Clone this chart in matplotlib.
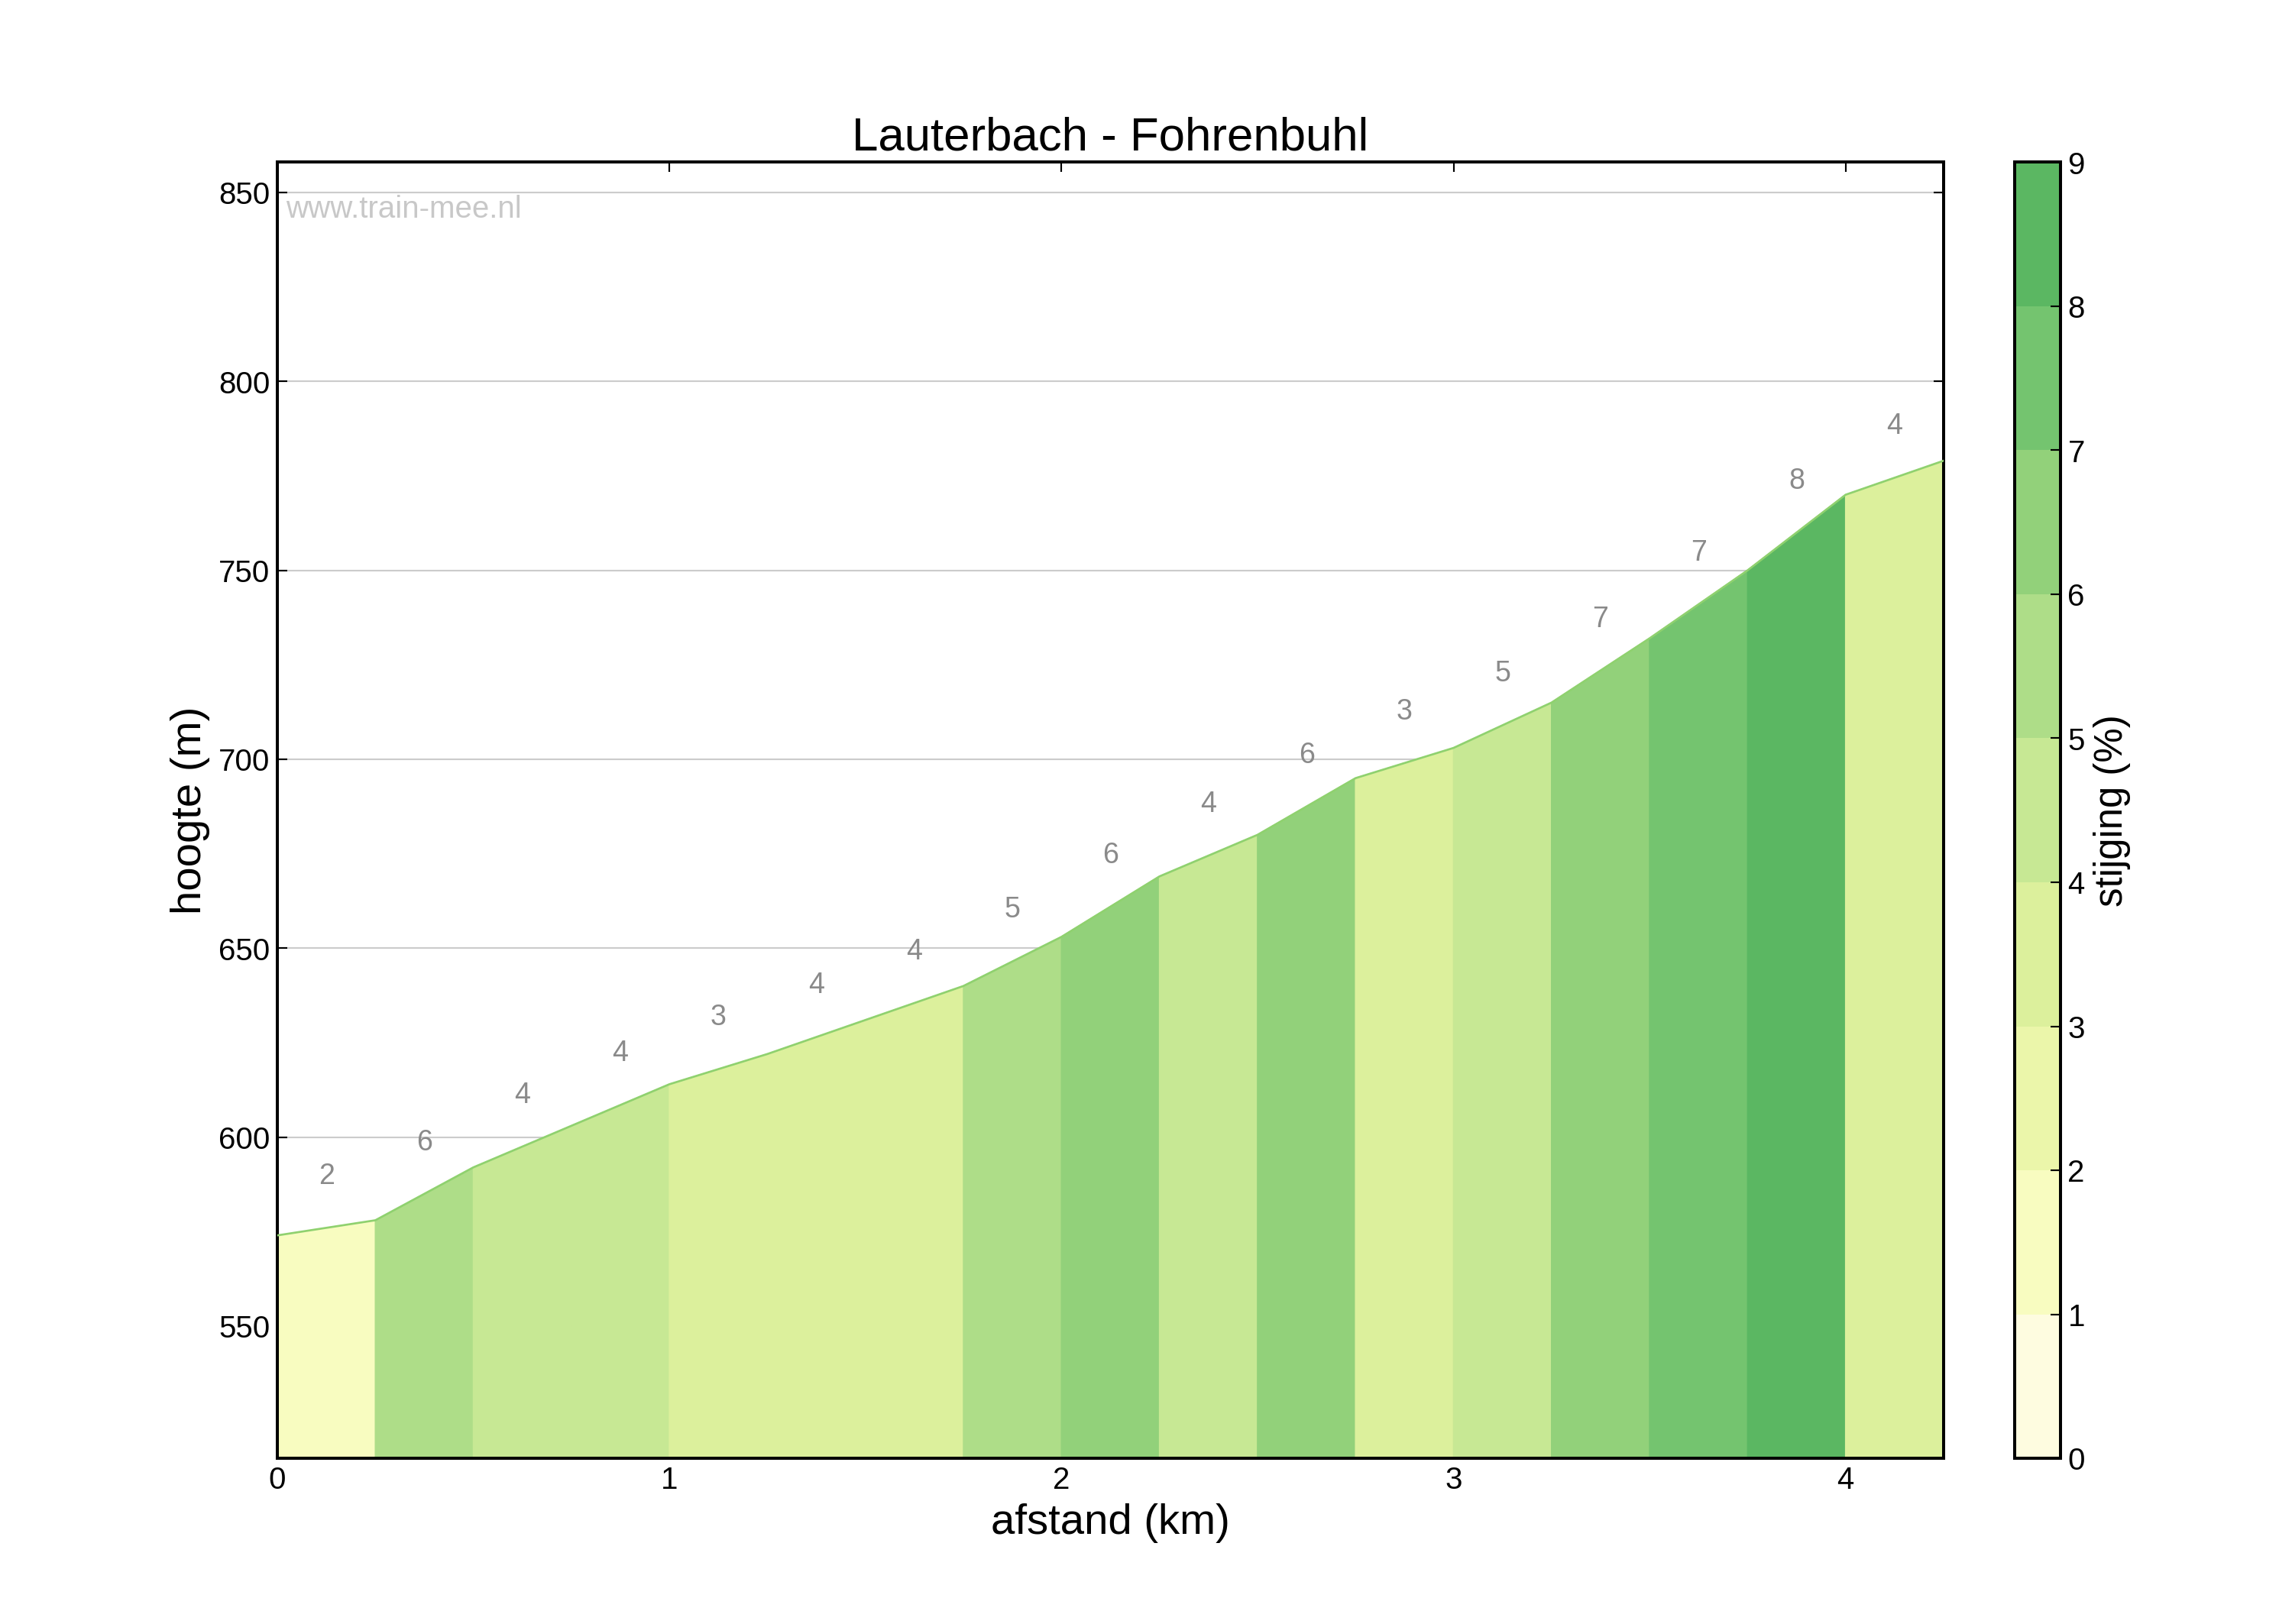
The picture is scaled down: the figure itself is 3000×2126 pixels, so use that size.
import matplotlib
matplotlib.use("Agg")
import matplotlib.pyplot as plt
import numpy as np
from matplotlib.colors import ListedColormap, BoundaryNorm
from matplotlib.colorbar import ColorbarBase

dist_km = [0, 0.25, 0.5, 0.75, 1.0, 1.25, 1.5, 1.75, 2.0, 2.25, 2.5, 2.75, 3.0, 3.25, 3.5, 3.75, 4.0, 4.25]
elev_m = [574, 578, 592, 603, 614, 622, 631, 640, 653, 669, 680, 695, 703, 715, 732, 750, 770, 779]
level_colors = ["#fefce0", "#f8fcc0", "#ebf6aa", "#dcf09c", "#c7e894", "#aedd88", "#92d17a", "#74c46f", "#5bb762"]
cbar_ticks = [0, 1, 2, 3, 4, 5, 6, 7, 8, 9]
y_ticks = [550, 600, 650, 700, 750, 800, 850]
x_ticks = [0, 1, 2, 3, 4]

plt.rcParams["font.family"] = "Liberation Sans"
fig = plt.figure(figsize=(15.52, 11), dpi=193.3)
ax = fig.add_axes([0.121, 0.102, 0.727, 0.798])
cmap = ListedColormap(level_colors)
norm = BoundaryNorm(cbar_ticks, cmap.N)

for i in range(len(dist_km) - 1):
    x0, x1 = dist_km[i], dist_km[i + 1]
    y0, y1 = elev_m[i], elev_m[i + 1]
    grade = (y1 - y0) / ((x1 - x0) * 1000) * 100
    c = cmap(norm(grade))
    ax.fill_between([x0, x1], [y0, y1], 0, facecolor=c, edgecolor=c, lw=0.6, zorder=2)
    ax.text((x0 + x1) / 2, (y0 + y1) / 2 + 10, f"{int(round(grade))}", ha="center", va="bottom",
            fontsize=14, color="#8a8a8a", zorder=4)
ax.plot(dist_km, elev_m, color="#8fd16f", lw=1, zorder=3)

ax.set_xlim(0, 4.25)
ax.set_ylim(515, 858)
ax.set_xticks(x_ticks)
ax.set_yticks(y_ticks)
ax.grid(axis="y", color="#cccccc", lw=0.8, zorder=1)
ax.set_axisbelow(True)
ax.tick_params(direction="in", top=True, right=True, labelsize=15, length=5)
for s in ax.spines.values():
    s.set_linewidth(1.5)
ax.set_xlabel("afstand (km)", fontsize=21)
ax.set_ylabel("hoogte (m)", fontsize=21)
ax.set_title("Lauterbach - Fohrenbuhl", fontsize=23)
ax.text(0.005, 0.975, "www.train-mee.nl", transform=ax.transAxes, fontsize=15, color="#c8c8c8",
        ha="left", va="top")

cax = fig.add_axes([0.879, 0.102, 0.02, 0.798])
cb = ColorbarBase(cax, cmap=cmap, norm=norm, ticks=cbar_ticks)
cb.set_label("stijging (%)", fontsize=19)
cb.outline.set_linewidth(1.5)
cax.tick_params(labelsize=15, direction="in", length=5)

fig.savefig("out.png", dpi=193.3)
